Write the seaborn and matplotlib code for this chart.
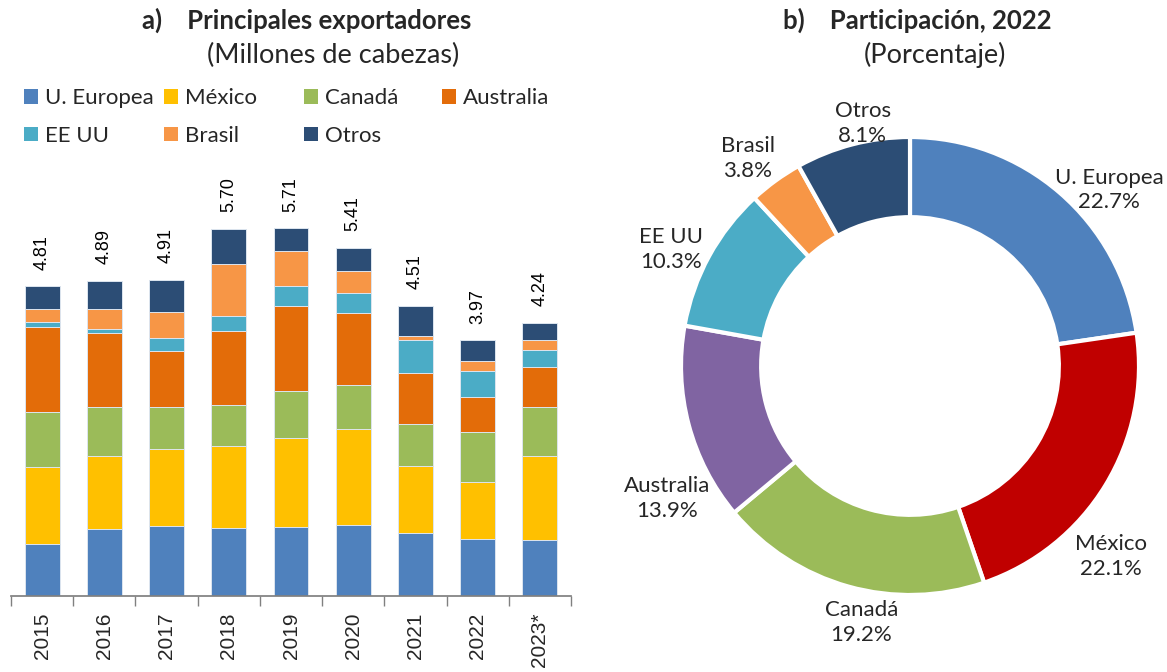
import numpy as np
import pandas as pd
import seaborn as sns
import matplotlib.pyplot as plt
from matplotlib.patches import Patch

# data
years = ["2015", "2016", "2017", "2018", "2019", "2020", "2021", "2022", "2023*"]
series = ["U. Europea", "México", "Canadá", "Australia", "EE UU", "Brasil", "Otros"]
ue = [0.80, 1.04, 1.08, 1.06, 1.07, 1.11, 0.98, 0.89, 0.87]
mexico = [1.21, 1.13, 1.20, 1.27, 1.38, 1.49, 1.04, 0.88, 1.30]
canada = [0.84, 0.77, 0.65, 0.63, 0.73, 0.68, 0.65, 0.77, 0.76]
australia = [1.33, 1.14, 0.88, 1.15, 1.33, 1.11, 0.79, 0.55, 0.63]
eeuu = [0.07, 0.07, 0.19, 0.24, 0.31, 0.32, 0.51, 0.40, 0.26]
brasil = [0.21, 0.30, 0.41, 0.80, 0.54, 0.33, 0.06, 0.16, 0.16]
otros = [0.35, 0.44, 0.50, 0.55, 0.35, 0.37, 0.48, 0.32, 0.26]

pie_labels = ["U. Europea", "México", "Canadá", "Australia", "EE UU", "Brasil", "Otros"]
pie_shares = [22.7, 22.1, 19.2, 13.9, 10.3, 3.8, 8.1]

bar_colors = ["#4F81BD", "#FFC000", "#9BBB59", "#E36C09", "#4BACC6", "#F79646", "#2C4D75"]
pie_colors = ["#4F81BD", "#C00000", "#9BBB59", "#8064A2", "#4BACC6", "#F79646", "#2C4D75"]

df = pd.DataFrame({"year": years, "U. Europea": ue, "México": mexico, "Canadá": canada,
                   "Australia": australia, "EE UU": eeuu, "Brasil": brasil, "Otros": otros})
cum = df[series].cumsum(axis=1)
cum["year"] = df["year"]

sns.set_theme(style="white")
plt.rcParams["font.family"] = ["Lato", "DejaVu Sans"]

W, H = 1167, 672
fig = plt.figure(figsize=(W / 100, H / 100), dpi=100)

# --- a) stacked bars (cumulative bars drawn back to front) ---
ax1 = fig.add_axes([11 / W, 76 / H, 560 / W, 425 / H])
for s, c in reversed(list(zip(series, bar_colors))):
    sns.barplot(data=cum, x="year", y=s, color=c, saturation=1, width=0.56,
                edgecolor="#dde5ef", linewidth=0.7, ax=ax1)

totals = df[series].sum(axis=1)
for i, t in enumerate(totals):
    ax1.text(i, t + 0.26, f"{t:.2f}", rotation=90, ha="center", va="bottom",
             fontsize=13, family="Liberation Sans", color="black")

ax1.set_xlim(-0.5, len(years) - 0.5)
ax1.set_ylim(0, 6.6)
ax1.set_xlabel("")
ax1.set_ylabel("")
ax1.set_yticks([])
ax1.set_xticks(np.arange(len(years)))
ax1.set_xticklabels(years, rotation=90, fontsize=15, family="Liberation Sans")
ax1.set_xticks(np.arange(-0.5, len(years)), minor=True)
ax1.tick_params(axis="x", which="major", length=0, pad=12)
ax1.tick_params(axis="x", which="minor", length=7, width=1, color="#808080", bottom=True)
for sp in ["top", "left", "right"]:
    ax1.spines[sp].set_visible(False)
ax1.spines["bottom"].set_color("#808080")

# legend, one column per legend to keep equal spacing
cols = [[0, 4], [1, 5], [2, 6], [3]]
xs = [24, 164, 304, 442]
for idx, x in zip(cols, xs):
    handles = [Patch(facecolor=bar_colors[k], edgecolor="none") for k in idx]
    fig.legend(handles, [series[k] for k in idx], loc="upper left",
               bbox_to_anchor=(x / W, 1 - 88 / H), frameon=False, fontsize=16,
               handlelength=0.64, handleheight=0.64, handletextpad=0.3,
               labelspacing=0.8, borderpad=0, borderaxespad=0)

fig.text(307 / W, 1 - 20 / H, "a)    Principales exportadores", ha="center", va="center",
         fontsize=18.5, fontweight="bold")
fig.text(333 / W, 1 - 55 / H, "(Millones de cabezas)", ha="center", va="center", fontsize=19.5)

# --- b) donut ---
R = 229
ax2 = fig.add_axes([(910 - 1.3 * R) / W, (H - 366 - 1.3 * R) / H, 2.6 * R / W, 2.6 * R / H])
ax2.pie(pie_shares, colors=pie_colors, startangle=90, counterclock=False, radius=1,
        wedgeprops=dict(width=0.35, edgecolor="white", linewidth=3))
ax2.set_xlim(-1.3, 1.3)
ax2.set_ylim(-1.3, 1.3)
ax2.set_aspect("equal")
ax2.axis("off")

label_pos = [(41.5, 1.16), (-43.5, 1.21), (-100.7, 1.14), (208.6, 1.21),
             (154, 1.16), (128, 1.15), (101, 1.08)]
for name, v, (ang, d) in zip(pie_labels, pie_shares, label_pos):
    a = np.deg2rad(ang)
    ax2.text(d * np.cos(a), d * np.sin(a), f"{name}\n{v:.1f}%", ha="center", va="center",
             fontsize=16, linespacing=1.3)

fig.text(917 / W, 1 - 20 / H, "b)    Participación, 2022", ha="center", va="center",
         fontsize=18.5, fontweight="bold")
fig.text(935 / W, 1 - 55 / H, "(Porcentaje)", ha="center", va="center", fontsize=19.5)

fig.savefig("out.png", dpi=100)
